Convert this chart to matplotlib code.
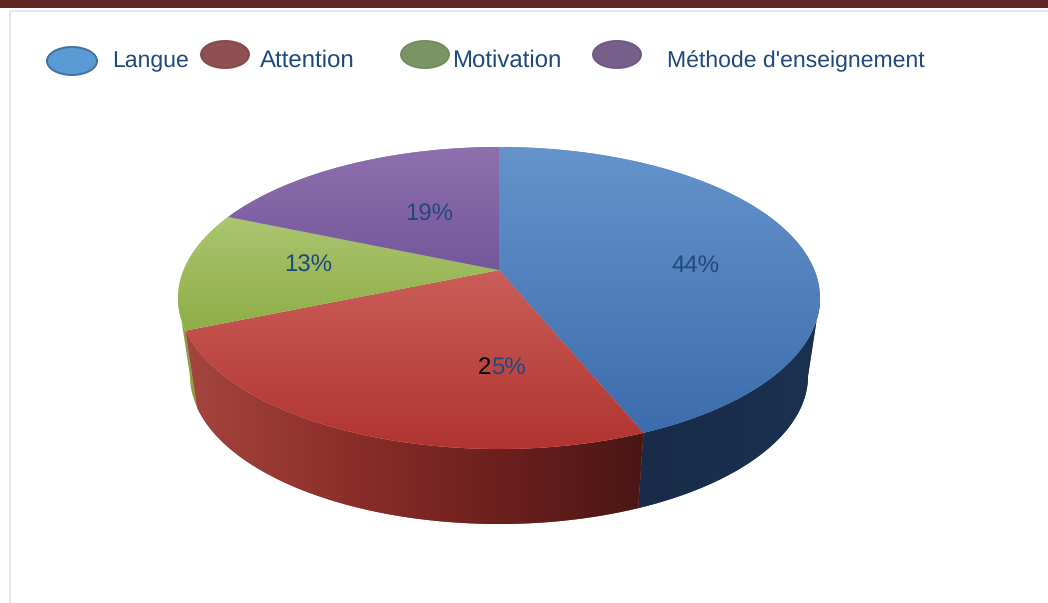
import numpy as np
import matplotlib
matplotlib.use("Agg")
import matplotlib.pyplot as plt
from matplotlib.colors import LinearSegmentedColormap
from matplotlib.patches import Ellipse, Polygon, Rectangle

W, H = 1048, 603

categories = ["Langue", "Attention", "Motivation", "Méthode d'enseignement"]
# each rounds to the printed label
values = [43.8, 24.9, 12.7, 18.6]
pct_labels = ["44%", "25%", "13%", "19%"]
label_xy = [(695.5, 266), (503, 368), (308, 266), (429, 215)]

top_colors = [("#6593cb", "#3a6aab"), ("#dc7a72", "#b13431"),
              ("#bcd58a", "#72931c"), ("#8f70ae", "#4d3080")]
side_colors = [["#182c49", "#1b3150"], ["#a5453f", "#8d2f2b", "#6e201e", "#4a1614"],
               ["#8aa040", "#8aa040"]]
legend_fill = ["#5b9bd5", "#8e5050", "#7a9466", "#775f8c"]
legend_edge = ["#41719c", "#844a4a", "#728c5f", "#6f5884"]
legend_xy = [(72, 61), (225, 54.5), (425, 54.5), (617, 54.5)]
legend_size = [(50, 28), (48, 27), (48, 27), (48, 27)]
legend_text_x = [112.5, 260, 452, 667]
legend_font = [16.6, 17, 17, 16.9]

TEXT = "#1f497d"
cx, cy, rx, ry = 499, 298, 321, 151
bot_cy, bot_rx, bot_ry = 376, 309, 148
# perspective tilt: puts the pie centre above the middle of the outline ellipse
K = -0.185


def project(a, ecy, erx, ery):
    # circle angle (clockwise from 12 o'clock) to a point on the tilted ellipse
    x, y = np.sin(a), -np.cos(a)
    d = 1 + K * y
    return np.c_[cx + erx * x * np.sqrt(1 - K ** 2) / d, ecy + ery * (y + K) / d]


plt.rcParams["font.family"] = ["Liberation Sans", "DejaVu Sans"]
plt.rcParams["text.hinting"] = "no_hinting"
plt.rcParams["text.hinting_factor"] = 1
fig = plt.figure(figsize=(W / 100, H / 100), dpi=100, facecolor="white")

ax = fig.add_axes([0, 0, 1, 1])
ax.set_xlim(0, W)
ax.set_ylim(H, 0)
ax.axis("off")

# page frame
ax.add_patch(Rectangle((0, 0), W, 8, fc="#622423", ec="none"))
ax.add_patch(Rectangle((9, 10), W - 9, 2, fc="#dce6f4", ec="none"))
ax.add_patch(Rectangle((8.5, 10), 2, H - 10, fc="#dce6f4", ec="none"))

edges = np.cumsum([0] + values) / sum(values) * 2 * np.pi
x_ramp = np.linspace(0, 1, 256).reshape(1, -1)
y_ramp = np.linspace(0, 1, 256).reshape(-1, 1)

# side walls, only the part between the two silhouette angles is visible
a_right = np.arccos(K)
a_left = 2 * np.pi - a_right
for i in [0, 2, 1]:
    a = np.linspace(max(edges[i], a_right), min(edges[i + 1], a_left), 160)
    top = project(a, cy, rx, ry)
    bot = project(a, bot_cy, bot_rx, bot_ry)
    wall = Polygon(np.r_[top, bot[::-1]], closed=True, fc=side_colors[i][0], ec="none", zorder=2)
    ax.add_patch(wall)
    if i != 2:
        cmap = LinearSegmentedColormap.from_list(f"side{i}", side_colors[i])
        x0, x1 = min(top[:, 0].min(), bot[:, 0].min()), max(top[:, 0].max(), bot[:, 0].max())
        im = ax.imshow(x_ramp, cmap=cmap, extent=(x0, x1, 530, 290), aspect="auto", zorder=2)
        im.set_clip_path(wall)

# top face
apex = [cx, cy + ry * K]
for i in range(len(values)):
    a = np.linspace(edges[i], edges[i + 1], 200)
    face = Polygon(np.r_[[apex], project(a, cy, rx, ry)], closed=True,
                   fc=top_colors[i][0], ec="none", zorder=3)
    ax.add_patch(face)
    cmap = LinearSegmentedColormap.from_list(f"top{i}", top_colors[i])
    im = ax.imshow(y_ramp, cmap=cmap, extent=(cx - rx, cx + rx, cy + ry, cy - ry),
                   aspect="auto", zorder=3)
    im.set_clip_path(face)

ax.set_xlim(0, W)
ax.set_ylim(H, 0)

for i, lab in enumerate(pct_labels):
    x, y = label_xy[i]
    if i == 1:
        # first digit of this one is black in the original
        ax.text(x - 11.5, y, lab[:1], color="black", fontsize=17, ha="right", va="center", zorder=5)
        ax.text(x - 11.5, y, lab[1:], color=TEXT, fontsize=17, ha="left", va="center", zorder=5)
    else:
        ax.text(x, y, lab, color=TEXT, fontsize=17, ha="center", va="center", zorder=5)

for i, name in enumerate(categories):
    w, h = legend_size[i]
    ax.add_patch(Ellipse(legend_xy[i], w, h, fc=legend_fill[i], ec=legend_edge[i], lw=1.4, zorder=4))
    ax.text(legend_text_x[i], 61, name, color=TEXT, fontsize=legend_font[i], ha="left", va="center", zorder=5)

fig.savefig("out.png", dpi=100)
